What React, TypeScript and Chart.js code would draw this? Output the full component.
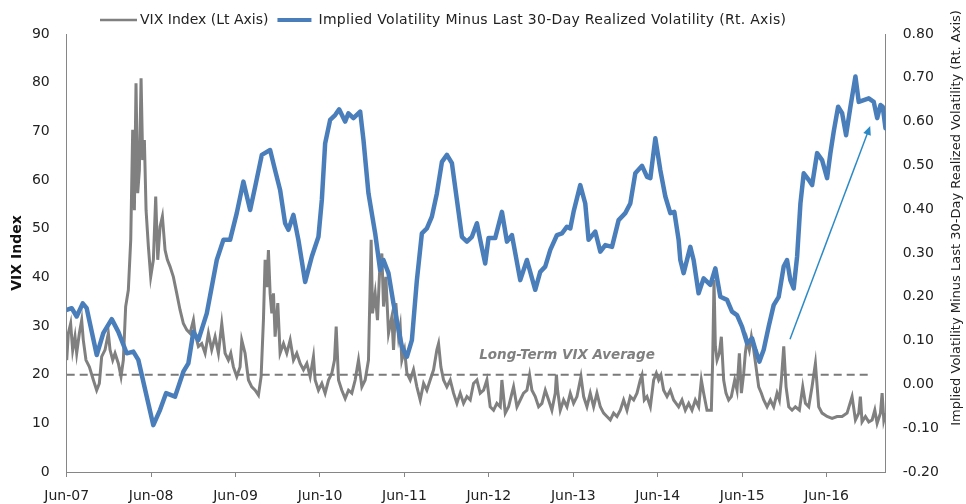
import React, { useEffect, useRef } from "react";
import { Chart, registerables } from "chart.js";

Chart.register(...registerables);

// ---------- data ----------
const xTickMonths = [0, 12, 24, 36, 48, 60, 72, 84, 96, 108];
const xTickLabels = ["Jun-07", "Jun-08", "Jun-09", "Jun-10", "Jun-11", "Jun-12", "Jun-13", "Jun-14", "Jun-15", "Jun-16"];
const xMax = 116.4; // months after Jun-07 at the right edge

const vixMonths = [
  0.0, 0.23, 0.56, 0.85, 1.18, 1.42, 1.8, 2.13, 2.36, 2.74, 3.22, 3.79, 4.26, 4.64, 4.97, 5.45, 5.92, 6.16, 6.54, 6.87,
  7.34, 7.72, 8.05, 8.38, 8.76, 9.1, 9.38, 9.62, 9.85, 10.09, 10.33, 10.57, 10.8, 11.04, 11.28, 11.61, 11.94, 12.32, 12.65, 12.94,
  13.27, 13.6, 13.98, 14.31, 14.69, 15.16, 15.64, 16.11, 16.58, 17.06, 17.53, 18.01, 18.24, 18.72, 19.19, 19.67, 20.14, 20.61, 21.09, 21.56,
  22.04, 22.51, 22.98, 23.32, 23.69, 24.17, 24.64, 24.88, 25.35, 25.83, 26.3, 26.78, 27.25, 27.63, 27.96,
  28.2, 28.44, 28.67, 28.91, 29.15, 29.39, 29.62, 30.0, 30.33, 30.81, 31.28, 31.76, 32.23, 32.7, 33.18, 33.65, 34.13, 34.6, 35.07, 35.31,
  35.78, 36.26, 36.73, 37.21, 37.68, 38.06, 38.3, 38.63, 39.1, 39.58, 40.05, 40.52, 41.0, 41.47, 41.95, 42.42, 42.89, 43.27, 43.46, 43.84,
  44.17, 44.46, 44.79, 45.03, 45.36, 45.74, 46.21, 46.45, 46.78, 47.16, 47.4, 47.63, 48.01, 48.35, 48.82, 49.29, 49.77, 50.24, 50.72, 51.19,
  51.66, 52.14, 52.61, 52.85, 53.18, 53.56, 54.03, 54.51, 54.98, 55.46, 55.93, 56.4, 56.88, 57.35,
  57.82, 58.3, 58.77, 59.25, 59.72, 60.19, 60.67, 61.14, 61.62, 61.85, 62.33, 62.8, 63.28, 63.51, 63.99, 64.46, 64.93, 65.41, 65.79, 66.12,
  66.59, 67.07, 67.54, 68.02, 68.49, 68.96, 69.44, 69.6, 69.77, 70.15, 70.62, 71.1, 71.57, 72.04, 72.52, 73.09, 73.47, 73.94, 74.41, 74.89,
  75.36, 75.84, 76.31, 76.78, 77.26, 77.73, 78.21, 78.68, 79.15, 79.63, 80.1, 80.58, 81.05, 81.52, 81.76, 82.09, 82.47, 82.95, 83.42, 83.8,
  84.13, 84.46, 84.84, 85.32, 85.79, 86.26,
  86.97, 87.45, 87.92, 88.4, 88.87, 89.34, 89.82, 90.2, 90.53, 91.0, 91.62, 91.81, 92.0, 92.19, 92.43, 92.76, 93.04, 93.37, 93.7, 94.08,
  94.46, 94.94, 95.27, 95.6, 95.89, 96.22, 96.45, 96.69, 97.02, 97.31, 97.64, 97.97, 98.35, 98.73, 99.06, 99.54, 100.01, 100.48, 100.96, 101.29,
  101.57, 101.91, 102.24, 102.62, 103.09, 103.56, 104.13, 104.61, 104.99, 105.46, 105.93, 106.41, 106.88, 107.36, 108.07, 108.78, 109.49, 110.2, 110.91, 111.62,
  112.1, 112.57, 112.8, 113.04, 113.52, 113.99, 114.47, 114.85, 115.18, 115.65, 115.89, 116.13, 116.36,
];
const vixValues = [
  23.0, 28.5, 30.5, 25.0, 27.8, 24.4, 28.5, 31.2, 27.1, 23.0, 21.6, 18.9, 16.8, 18.2, 23.7, 25.1, 28.5, 25.1, 23.0, 24.4,
  22.3, 19.6, 23.0, 34.0, 37.4, 47.7, 70.3, 53.8, 79.9, 57.3, 62.0, 80.9, 64.1, 68.2, 53.8, 46.3, 40.1, 43.6, 56.6, 43.6,
  50.4, 52.5, 45.6, 43.6, 42.2, 40.1, 36.7, 33.3, 30.5, 29.2, 28.5, 31.2, 28.5, 25.8, 26.4, 24.4, 28.5, 25.1, 27.8, 24.4,
  30.5, 24.4, 23.0, 24.4, 21.6, 19.6, 21.6, 27.1, 24.4, 18.9, 17.5, 16.8, 15.8, 19.6, 31.2,
  43.6, 38.0, 45.6, 36.7, 32.6, 36.7, 27.8, 34.7, 24.4, 26.4, 24.4, 27.1, 23.0, 24.4, 22.3, 21.0, 22.3, 19.6, 23.7, 18.9,
  16.8, 18.2, 16.2, 18.9, 20.3, 23.0, 29.9, 18.9, 16.8, 15.1, 16.8, 16.2, 18.9, 23.0, 17.5, 18.9, 23.0, 47.7, 32.6, 36.7,
  31.2, 40.8, 44.9, 34.0, 40.1, 28.5, 31.9, 25.1, 34.7, 27.8, 29.9, 23.0, 25.1, 20.3, 18.9, 21.0, 17.5, 14.8, 18.2, 16.8,
  18.9, 21.0, 25.1, 26.4, 21.6, 18.9, 17.5, 18.9, 16.2, 14.1, 16.2, 14.1, 15.5, 14.8,
  18.2, 18.9, 16.2, 16.8, 18.9, 13.4, 12.7, 14.1, 13.4, 18.9, 12.1, 13.4, 16.2, 17.5, 13.4, 14.8, 16.2, 16.8, 19.9, 16.8,
  15.5, 13.4, 14.1, 16.8, 14.8, 12.7, 16.2, 20.0, 16.8, 12.7, 14.8, 13.4, 16.2, 14.1, 15.5, 19.6, 15.5, 13.4, 16.2, 13.4,
  16.2, 13.4, 12.1, 11.4, 10.7, 12.1, 11.4, 12.7, 14.8, 12.7, 15.5, 14.8, 16.2, 18.9, 19.9, 14.8, 15.5, 13.4, 18.9, 20.3,
  18.9, 19.9, 16.8, 15.5, 16.8, 14.8,
  13.4, 14.8, 12.7, 14.1, 12.7, 14.8, 13.4, 18.9, 16.2, 12.7, 12.7, 23.0, 39.5, 25.8, 23.0, 24.4, 27.8, 18.9, 16.2, 14.8,
  15.5, 18.9, 16.8, 24.4, 16.2, 20.3, 24.4, 27.1, 25.1, 27.8, 25.1, 21.6, 17.5, 16.2, 14.8, 13.4, 14.8, 13.4, 16.2, 14.8,
  18.9, 25.8, 17.5, 13.4, 12.7, 13.4, 12.7, 17.5, 14.1, 13.4, 17.5, 22.3, 13.4, 12.1, 11.4, 11.0, 11.4, 11.4, 12.1, 15.5,
  10.7, 12.1, 15.5, 10.3, 11.4, 10.3, 10.7, 12.7, 10.0, 12.1, 16.2, 10.7, 12.1,
];

const spreadMonths = [
  0.0, 0.71, 1.42, 2.28, 2.84, 4.27, 5.2, 6.4, 7.34, 8.53, 9.47, 10.18, 11.38, 12.31, 13.27, 14.12, 15.4, 16.58, 17.29, 18.0,
  18.71, 19.91, 21.33, 22.27, 23.22, 24.17, 25.11, 26.07, 26.78, 27.73, 28.91, 29.62, 30.33, 31.04, 31.51, 32.22, 32.93, 33.89, 34.84, 35.78,
  36.26, 36.73, 37.44, 38.15, 38.72, 39.57, 40.04, 40.75, 41.71, 42.18, 42.89, 43.84, 44.55, 45.02, 45.73, 46.44, 47.64, 48.35, 49.06, 49.77,
  50.48, 51.19, 51.9, 52.61, 53.33, 54.04, 54.75, 55.46, 56.17, 56.88, 57.59, 58.3, 58.77, 59.48, 59.95, 60.9, 61.86, 62.57, 63.28, 64.46,
  65.41, 66.59, 67.3, 68.01, 68.73, 69.68, 70.39, 71.1, 71.57, 72.04, 72.99, 73.7, 74.17, 75.12, 75.84, 76.55, 77.5, 78.44, 79.39, 80.1,
  80.81, 81.77, 82.48, 82.95, 83.66, 84.37, 85.08, 85.79, 86.36, 86.97, 87.21, 87.68, 88.63, 89.1, 89.81, 90.52, 91.48, 92.19, 92.9, 93.85,
  94.56, 95.27, 95.98, 96.7, 97.41, 97.88, 98.44, 99.06, 99.77, 100.48, 101.19, 101.9, 102.38, 102.85, 103.32, 103.81, 104.28, 104.75, 105.46, 105.94,
  106.65, 107.36, 108.07, 108.54, 109.01, 109.64, 110.21, 110.77, 111.39, 112.1, 112.57, 113.28, 113.99, 114.7, 115.19, 115.66, 115.98, 116.37,
];
const spreadValues = [
  0.17, 0.174, 0.155, 0.185, 0.174, 0.067, 0.117, 0.149, 0.12, 0.071, 0.075, 0.056, -0.028, -0.093, -0.058, -0.02, -0.028, 0.029, 0.048, 0.12,
  0.101, 0.162, 0.284, 0.33, 0.33, 0.391, 0.463, 0.398, 0.451, 0.524, 0.535, 0.489, 0.444, 0.368, 0.353, 0.387, 0.33, 0.234, 0.292, 0.337,
  0.421, 0.55, 0.604, 0.615, 0.628, 0.6, 0.619, 0.608, 0.623, 0.558, 0.436, 0.345, 0.261, 0.284, 0.254, 0.185, 0.086, 0.063, 0.101, 0.238,
  0.345, 0.356, 0.383, 0.436, 0.508, 0.524, 0.505, 0.421, 0.337, 0.326, 0.337, 0.368, 0.33, 0.276, 0.334, 0.334, 0.394, 0.326, 0.341, 0.238,
  0.284, 0.216, 0.257, 0.269, 0.307, 0.341, 0.345, 0.36, 0.356, 0.394, 0.455, 0.413, 0.33, 0.349, 0.303, 0.318, 0.314, 0.375, 0.391, 0.413,
  0.482, 0.499, 0.474, 0.471, 0.562, 0.489, 0.429, 0.391, 0.394, 0.33, 0.284, 0.254, 0.314, 0.284, 0.208, 0.242, 0.227, 0.265, 0.2, 0.193,
  0.166, 0.158, 0.132, 0.094, 0.105, 0.079, 0.052, 0.079, 0.132, 0.181, 0.2, 0.269, 0.284, 0.238, 0.219, 0.292, 0.413, 0.482, 0.467, 0.455,
  0.528, 0.512, 0.471, 0.528, 0.577, 0.634, 0.619, 0.569, 0.634, 0.703, 0.645, 0.649, 0.653, 0.645, 0.608, 0.638, 0.634, 0.585,
];

const longTermVixAverage = 20;
const averageLineEnd = 114.5; // months
const averageLabel = "Long-Term VIX Average";
const averageLabelAt = { x: 71.1, y: 24.0 }; // months, VIX
const arrowFrom = { x: 102.8, y: 0.103 }; // months, right-axis value
const arrowTo = { x: 114.2, y: 0.59 };

const legendVix = "VIX Index (Lt Axis)";
const legendSpread = "Implied Volatility Minus Last 30-Day Realized Volatility (Rt. Axis)";
const leftTitle = "VIX Index";
const rightTitle = "Implied Volatility Minus Last 30-Day Realized Volatility (Rt. Axis)";

// ---------- styles ----------
const FONT = "'DejaVu Sans', sans-serif";
const GREY = "#808080";
const BLUE = "#4a7ebb";
const AXIS = "#868686";
const TEXT = "#222222";

const overlayPlugin = {
  id: "overlay",
  afterDatasetsDraw(chart: any) {
    const { ctx, scales } = chart;
    const x = scales.x, y = scales.y, y1 = scales.y1;
    ctx.save();
    // annotation text
    ctx.font = `italic bold 13.5px ${FONT}`;
    ctx.fillStyle = GREY;
    ctx.textAlign = "center";
    ctx.textBaseline = "middle";
    ctx.fillText(averageLabel, x.getPixelForValue(averageLabelAt.x), y.getPixelForValue(averageLabelAt.y));
    // arrow
    const x0 = x.getPixelForValue(arrowFrom.x), y0 = y1.getPixelForValue(arrowFrom.y);
    const xe = x.getPixelForValue(arrowTo.x), ye = y1.getPixelForValue(arrowTo.y);
    const ang = Math.atan2(ye - y0, xe - x0);
    ctx.strokeStyle = "#2b8ac6";
    ctx.fillStyle = "#2b8ac6";
    ctx.lineWidth = 1.5;
    ctx.beginPath();
    ctx.moveTo(x0, y0);
    ctx.lineTo(xe - 6 * Math.cos(ang), ye - 6 * Math.sin(ang));
    ctx.stroke();
    ctx.beginPath();
    ctx.moveTo(xe, ye);
    ctx.lineTo(xe - 9 * Math.cos(ang) + 4 * Math.sin(ang), ye - 9 * Math.sin(ang) - 4 * Math.cos(ang));
    ctx.lineTo(xe - 9 * Math.cos(ang) - 4 * Math.sin(ang), ye - 9 * Math.sin(ang) + 4 * Math.cos(ang));
    ctx.closePath();
    ctx.fill();
    ctx.restore();
  },
  afterDraw(chart: any) {
    const { ctx } = chart;
    ctx.save();
    // legend
    ctx.font = `14px ${FONT}`;
    ctx.textBaseline = "middle";
    ctx.textAlign = "left";
    const ly = 20;
    let cx = 100;
    ctx.strokeStyle = GREY;
    ctx.lineWidth = 2.5;
    ctx.beginPath();
    ctx.moveTo(cx, ly);
    ctx.lineTo(cx + 37, ly);
    ctx.stroke();
    cx += 40;
    ctx.fillStyle = TEXT;
    ctx.fillText(legendVix, cx, ly);
    cx += ctx.measureText(legendVix).width + 9;
    ctx.strokeStyle = BLUE;
    ctx.lineWidth = 4;
    ctx.beginPath();
    ctx.moveTo(cx, ly);
    ctx.lineTo(cx + 34, ly);
    ctx.stroke();
    cx += 41;
    (ctx as any).letterSpacing = "0.3px";
    ctx.fillText(legendSpread, cx, ly);
    (ctx as any).letterSpacing = "0px";
    // right axis title (reads bottom to top)
    ctx.translate(957, 218);
    ctx.rotate(-Math.PI / 2);
    ctx.font = `13px ${FONT}`;
    ctx.textAlign = "center";
    ctx.fillStyle = TEXT;
    ctx.fillText(rightTitle, 0, 0);
    ctx.restore();
  },
};

export default function App() {
  const ref = useRef<HTMLCanvasElement | null>(null);
  useEffect(() => {
    if (!ref.current) return;
    const chart = new Chart(ref.current, {
      type: "line",
      data: {
        datasets: [
          {
            label: legendSpread,
            data: spreadMonths.map((m, i) => ({ x: m, y: spreadValues[i] })),
            yAxisID: "y1",
            borderColor: BLUE,
            borderWidth: 4.5,
            pointRadius: 0,
            borderJoinStyle: "round",
            borderCapStyle: "round",
            tension: 0,
            order: 0,
          },
          {
            label: "Long-Term Average",
            data: [
              { x: 0, y: longTermVixAverage },
              { x: averageLineEnd, y: longTermVixAverage },
            ],
            yAxisID: "y",
            borderColor: "#7a7a7a",
            borderWidth: 2,
            borderDash: [8, 5],
            pointRadius: 0,
            order: 1,
          },
          {
            label: legendVix,
            data: vixMonths.map((m, i) => ({ x: m, y: vixValues[i] })),
            yAxisID: "y",
            borderColor: GREY,
            borderWidth: 3,
            pointRadius: 0,
            tension: 0,
            order: 2,
          },
        ],
      },
      options: {
        animation: false,
        responsive: false,
        devicePixelRatio: 1,
        layout: { padding: { top: 34, left: 0, right: 0, bottom: 0 } },
        plugins: { legend: { display: false }, tooltip: { enabled: false } },
        scales: {
          x: {
            type: "linear",
            min: 0,
            max: xMax,
            afterBuildTicks: (s: any) => {
              s.ticks = xTickMonths.map((v) => ({ value: v }));
            },
            afterFit: (s: any) => {
              s.height = 32;
            },
            ticks: {
              autoSkip: false,
              maxRotation: 0,
              padding: 11,
              color: TEXT,
              font: { family: FONT, size: 14 },
              callback: (v: any) => {
                const i = xTickMonths.indexOf(Number(v));
                return i >= 0 ? xTickLabels[i] : "";
              },
            },
            grid: { display: true, drawOnChartArea: false, drawTicks: true, tickLength: 5, color: AXIS },
            border: { display: true, color: AXIS, width: 1 },
          },
          y: {
            position: "left",
            min: 0,
            max: 90,
            afterFit: (s: any) => {
              s.width = 66.7;
            },
            ticks: { stepSize: 10, padding: 17, color: TEXT, font: { family: FONT, size: 14 } },
            grid: { display: false, drawTicks: false },
            border: { display: true, color: AXIS, width: 1 },
            title: {
              display: true,
              text: leftTitle,
              color: "#111111",
              font: { family: FONT, size: 14, weight: "bold" },
              padding: { top: 8.6, bottom: 0 },
            },
          },
          y1: {
            position: "right",
            min: -0.2,
            max: 0.8,
            afterFit: (s: any) => {
              s.width = 80.3;
            },
            ticks: {
              stepSize: 0.1,
              padding: 17,
              color: TEXT,
              font: { family: FONT, size: 14 },
              callback: (v: any) => {
                const n = Number(v);
                return Math.abs(n) < 1e-9 ? "0.00" : n.toFixed(2);
              },
            },
            grid: { display: false, drawTicks: false },
            border: { display: true, color: AXIS, width: 1 },
          },
        },
      },
      plugins: [overlayPlugin],
    } as any);
    return () => chart.destroy();
  }, []);
  return (
    <div style={{ position: "absolute", left: 0, top: 0, width: 966, height: 504, background: "#fff" }}>
      <canvas ref={ref} width={966} height={504} />
    </div>
  );
}
